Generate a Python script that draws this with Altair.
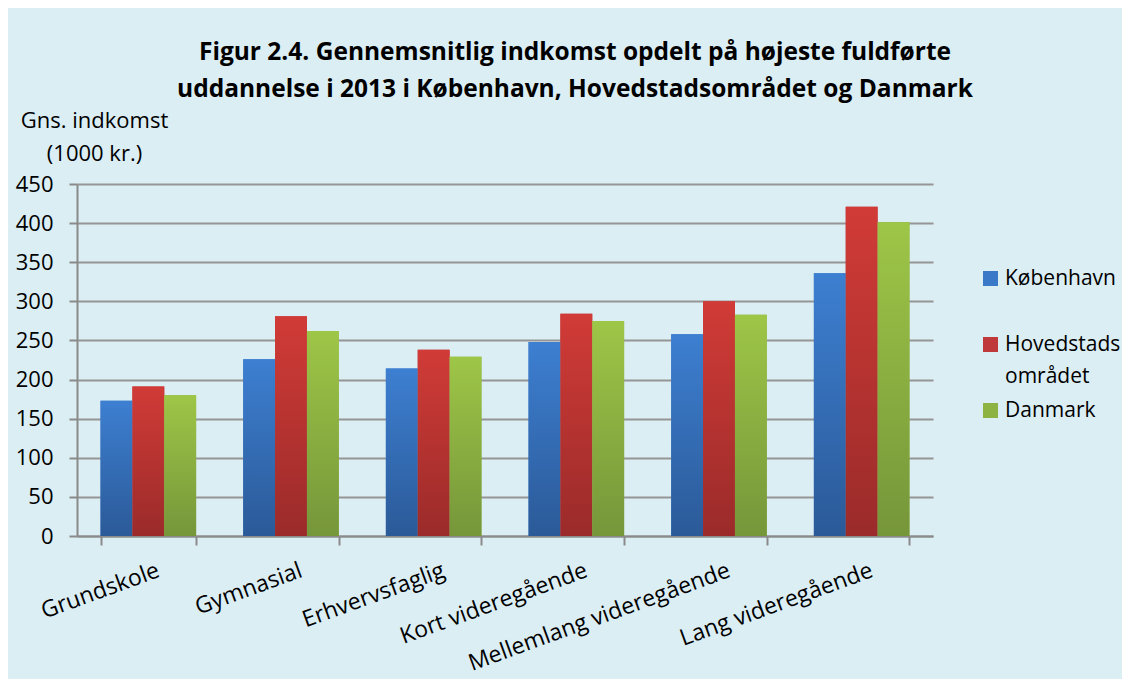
import altair as alt
import pandas as pd

categories = ["Grundskole", "Gymnasial", "Erhvervsfaglig", "Kort videregående",
              "Mellemlang videregående", "Lang videregående"]
series = ["København", "Hovedstadsområdet", "Danmark"]
kobenhavn = [173, 226, 214, 248, 258, 336]
hovedstad = [191, 281, 238, 284, 300, 421]
danmark = [180, 262, 229, 275, 283, 401]

values = {"København": kobenhavn, "Hovedstadsområdet": hovedstad, "Danmark": danmark}
rows = []
for s in series:
    for c, v in zip(categories, values[s]):
        rows.append({"category": c, "series": s, "value": v})
df = pd.DataFrame(rows)

solid = ["#3A78C8", "#C0393A", "#8DB443"]
grad_stops = {
    "København": ("#3D7FD1", "#2B5A98"),
    "Hovedstadsområdet": ("#D13B37", "#9A2B2A"),
    "Danmark": ("#9EC647", "#76963A"),
}

FONT = "Open Sans"

base = alt.Chart(df).encode(
    x=alt.X("category:N", sort=categories,
            scale=alt.Scale(paddingInner=0.33, paddingOuter=0.165),
            axis=alt.Axis(title=None, labelAngle=340, labelAlign="right", labelBaseline="top",
                          labelFontSize=23, labelFont=FONT, labelColor="black",
                          labelPadding=14, labelOffset=6, tickBand="extent", tickSize=9, tickWidth=2,
                          tickColor="#8a8a8a", domainColor="#8a8a8a", domainWidth=2,
                          grid=False, labelOverlap=False, labelLimit=400)),
    xOffset=alt.XOffset("series:N", scale=alt.Scale(domain=series, paddingInner=0, paddingOuter=0)),
    y=alt.Y("value:Q", scale=alt.Scale(domain=[0, 450], nice=False),
            axis=alt.Axis(values=list(range(0, 451, 50)), title=["Gns. indkomst", "(1000 kr.)"],
                          titleAngle=0, titleX=17, titleY=-74, titleAlign="center",
                          titleBaseline="top", titleFontSize=22, titleFont=FONT,
                          titleFontWeight="normal", titleLineHeight=33, titleColor="black",
                          labelFontSize=22, labelFont=FONT, labelColor="black",
                          labelPadding=16, tickSize=8, tickWidth=2, tickColor="#8a8a8a",
                          domainColor="#8a8a8a", domainWidth=2,
                          grid=True, gridColor="#959595", gridWidth=2)),
)

legend_layer = base.mark_bar().encode(
    color=alt.Color("series:N", scale=alt.Scale(domain=series, range=solid),
                    legend=alt.Legend(title=None, orient="none", legendX=903, legendY=84,
                                      symbolType="square", symbolSize=225, symbolStrokeWidth=0,
                                      labelFontSize=21, labelFont=FONT, labelColor="black",
                                      rowPadding=12, labelOffset=4, labelLimit=300,
                                      labelExpr="datum.label == 'Hovedstadsområdet' ? ['Hovedstads', 'området'] : (datum.label == 'København' ? ['København', ''] : datum.label)"))
)

layers = [legend_layer]
for s in series:
    top, bottom = grad_stops[s]
    layers.append(
        base.transform_filter(alt.datum.series == s).mark_bar(
            fill=alt.Gradient(gradient="linear", x1=0, y1=0, x2=0, y2=1,
                              stops=[alt.GradientStop(color=top, offset=0),
                                     alt.GradientStop(color=bottom, offset=1)])
        )
    )

chart = alt.layer(*layers).properties(
    width=856, height=352,
    title=alt.TitleParams(
        text=["Figur 2.4. Gennemsnitlig indkomst opdelt på højeste fuldførte",
              "uddannelse i 2013 i København, Hovedstadsområdet og Danmark"],
        fontSize=24.5, font=FONT, fontWeight="bold", color="black", lineHeight=37,
        anchor="middle", dx=70, offset=7),
    background="#DBEEF4",
    autosize=alt.AutoSizeParams(type="none"),
    padding={"left": 69, "top": 176, "right": 189, "bottom": 143},
).configure(
    style={"guide-label": {"lineHeight": 32}}
).configure_view(stroke=None)

chart.save("out.html", embed_options={"renderer": "svg", "actions": False})
